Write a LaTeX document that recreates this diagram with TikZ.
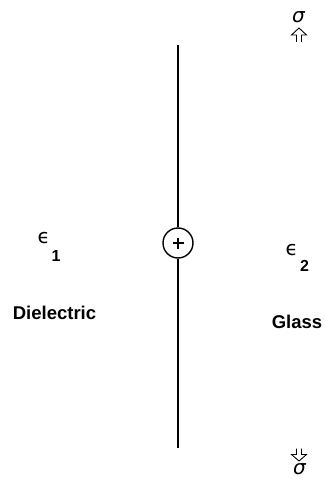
\documentclass[tikz,border=0pt]{standalone}
\usepackage{fontspec}
\setmainfont{Liberation Sans}
\newfontfamily\dejavu{DejaVu Sans}
\newfontfamily\dejavuit{DejaVu Sans Oblique}
\begin{document}
\begin{tikzpicture}[x=1pt,y=-1pt,
  lbl/.style={inner sep=0pt,anchor=base,font=\fontsize{18.5}{20}\selectfont\bfseries},
  eps/.style={inner sep=0pt,anchor=base west,font=\fontsize{16}{18}\selectfont},
  sig/.style={inner sep=0pt,anchor=base,font=\fontsize{20}{22}\selectfont\dejavuit},
  wire/.style={line width=1.3pt,black},
  openarrow/.style={line width=0.9pt,line join=miter}]
\useasboundingbox (0,0) rectangle (324,484);
% interface line with charge
\node[circle,draw,line width=1.4pt,minimum size=30pt,inner sep=0pt] (q) at (178,243) {};
\draw[line width=1.8pt] (172.5,243) -- (183.5,243) (178,237.5) -- (178,248.5);
\coordinate (top) at (178,45);
\coordinate (bot) at (178,448);
\draw[wire] (top) -- (q.north);
\draw[wire] (q.south) -- (bot);
% labels
\node[eps] (e1) at (37.5,243) {{\dejavu\fontsize{20}{22}\selectfont ϵ}\kern1.5pt\raisebox{-18pt}{\bfseries 1}};
\node[eps] (e2) at (285.5,255) {{\dejavu\fontsize{20}{22}\selectfont ϵ}\kern2pt\raisebox{-16pt}{\bfseries 2}};
\node[lbl] (diel) at (54.5,319) {Dielectric};
\node[lbl] (glass) at (297,328) {Glass};
% sigma with arrows
\node[sig] (s1) at (298.5,23) {σ};
\node[sig] (s2) at (299.5,474) {σ};
\coordinate (a1) at (299,28);
\draw[openarrow] (a1) ++(-2.5,14) -- ++(0,-7) -- ++(-5,0) -- ++(7.5,-7) -- ++(7.5,7) -- ++(-5,0) -- ++(0,7);
\coordinate (a2) at (299,461);
\draw[openarrow] (a2) ++(-2.5,-12.5) -- ++(0,6) -- ++(-5,0) -- ++(7.5,6.5) -- ++(7.5,-6.5) -- ++(-5,0) -- ++(0,-6);
\end{tikzpicture}
\end{document}
